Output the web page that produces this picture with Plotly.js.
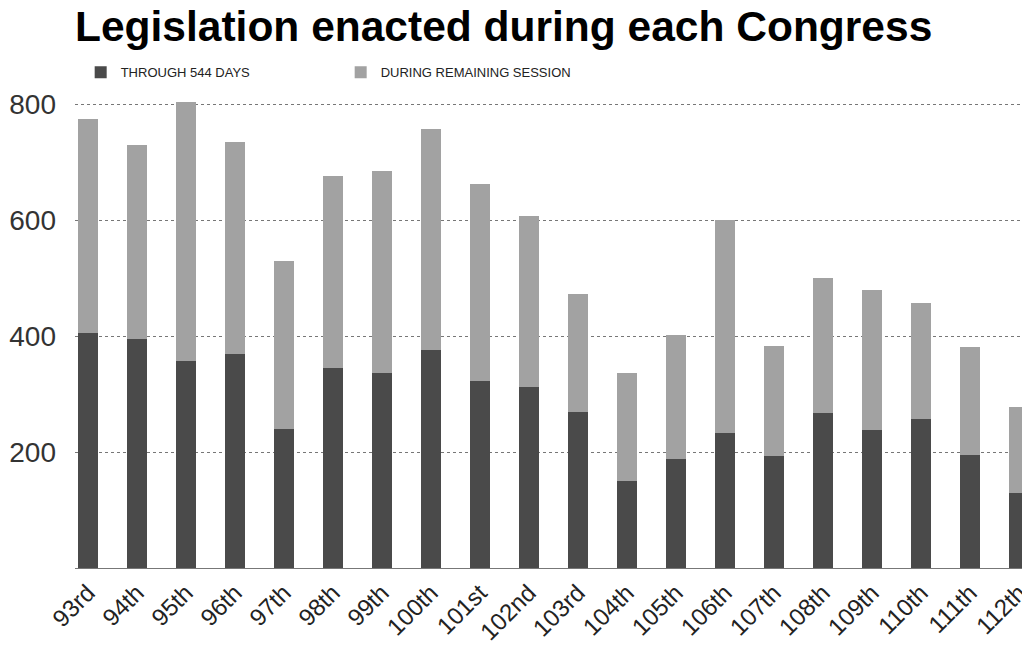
<!DOCTYPE html>
<html>
<head>
<meta charset="utf-8">
<script src="https://cdn.plot.ly/plotly-3.0.1.min.js"></script>
<style>html,body{margin:0;padding:0;background:#fff;}#chart{width:1022px;height:650px;}</style>
</head>
<body>
<div id="chart"></div>
<script>
const congresses = ["93rd","94th","95th","96th","97th","98th","99th","100th","101st","102nd","103rd","104th","105th","106th","107th","108th","109th","110th","111th","112th"];
const totals =      [775, 731, 805, 736, 530, 677, 686, 758, 663, 608, 473, 337, 402, 601, 383, 500, 480, 457, 382, 278];
const through544 =  [405, 395, 358, 370, 240, 345, 337, 377, 322, 313, 270, 151, 189, 233, 193, 267, 238, 257, 195, 130];
const remaining = totals.map((t, i) => t - through544[i]);
const yTicks = [200, 400, 600, 800];

const traces = [
  {type: "bar", name: "THROUGH 544 DAYS", x: congresses, y: through544,
   marker: {color: "#4a4a4a"}, width: 0.41},
  {type: "bar", name: "DURING REMAINING SESSION", x: congresses, y: remaining,
   marker: {color: "#a2a2a2"}, width: 0.41}
];

const layout = {
  width: 1022, height: 650,
  margin: {l: 75, r: 0, t: 93, b: 82},
  paper_bgcolor: "#fff", plot_bgcolor: "#fff",
  barmode: "stack",
  showlegend: true,
  title: {
    text: "<b>Legislation enacted during each Congress</b>",
    font: {family: "Liberation Sans, Arial, sans-serif", size: 42.5, color: "#000"},
    x: 75/1022, xanchor: "left", xref: "container",
    y: 1 - 11/650, yanchor: "top", yref: "container"
  },
  legend: {
    orientation: "h", x: 0.006, xanchor: "left", y: 1.012, yanchor: "bottom",
    font: {family: "Liberation Sans, Arial, sans-serif", size: 13, color: "#222"},
    entrywidth: 215, entrywidthmode: "pixels", traceorder: "normal",
    itemwidth: 30
  },
  xaxis: {
    type: "category", range: [-0.265, 19.06],
    tickangle: -45, showgrid: false, zeroline: false, showline: false,
    ticks: "", ticklabelstandoff: 5,
    tickfont: {family: "Liberation Sans, Arial, sans-serif", size: 24, color: "#222"}
  },
  yaxis: {
    range: [0, 820], tickvals: yTicks, ticktext: yTicks.map(String),
    showgrid: true, gridcolor: "#777", griddash: "dot", gridwidth: 1,
    zeroline: true, zerolinecolor: "#777", zerolinewidth: 1,
    showline: false, ticks: "", ticklabelstandoff: 18,
    tickfont: {family: "Liberation Sans, Arial, sans-serif", size: 28, color: "#333"}
  }
};

Plotly.newPlot("chart", traces, layout, {displayModeBar: false, staticPlot: true});
</script>
</body>
</html>
